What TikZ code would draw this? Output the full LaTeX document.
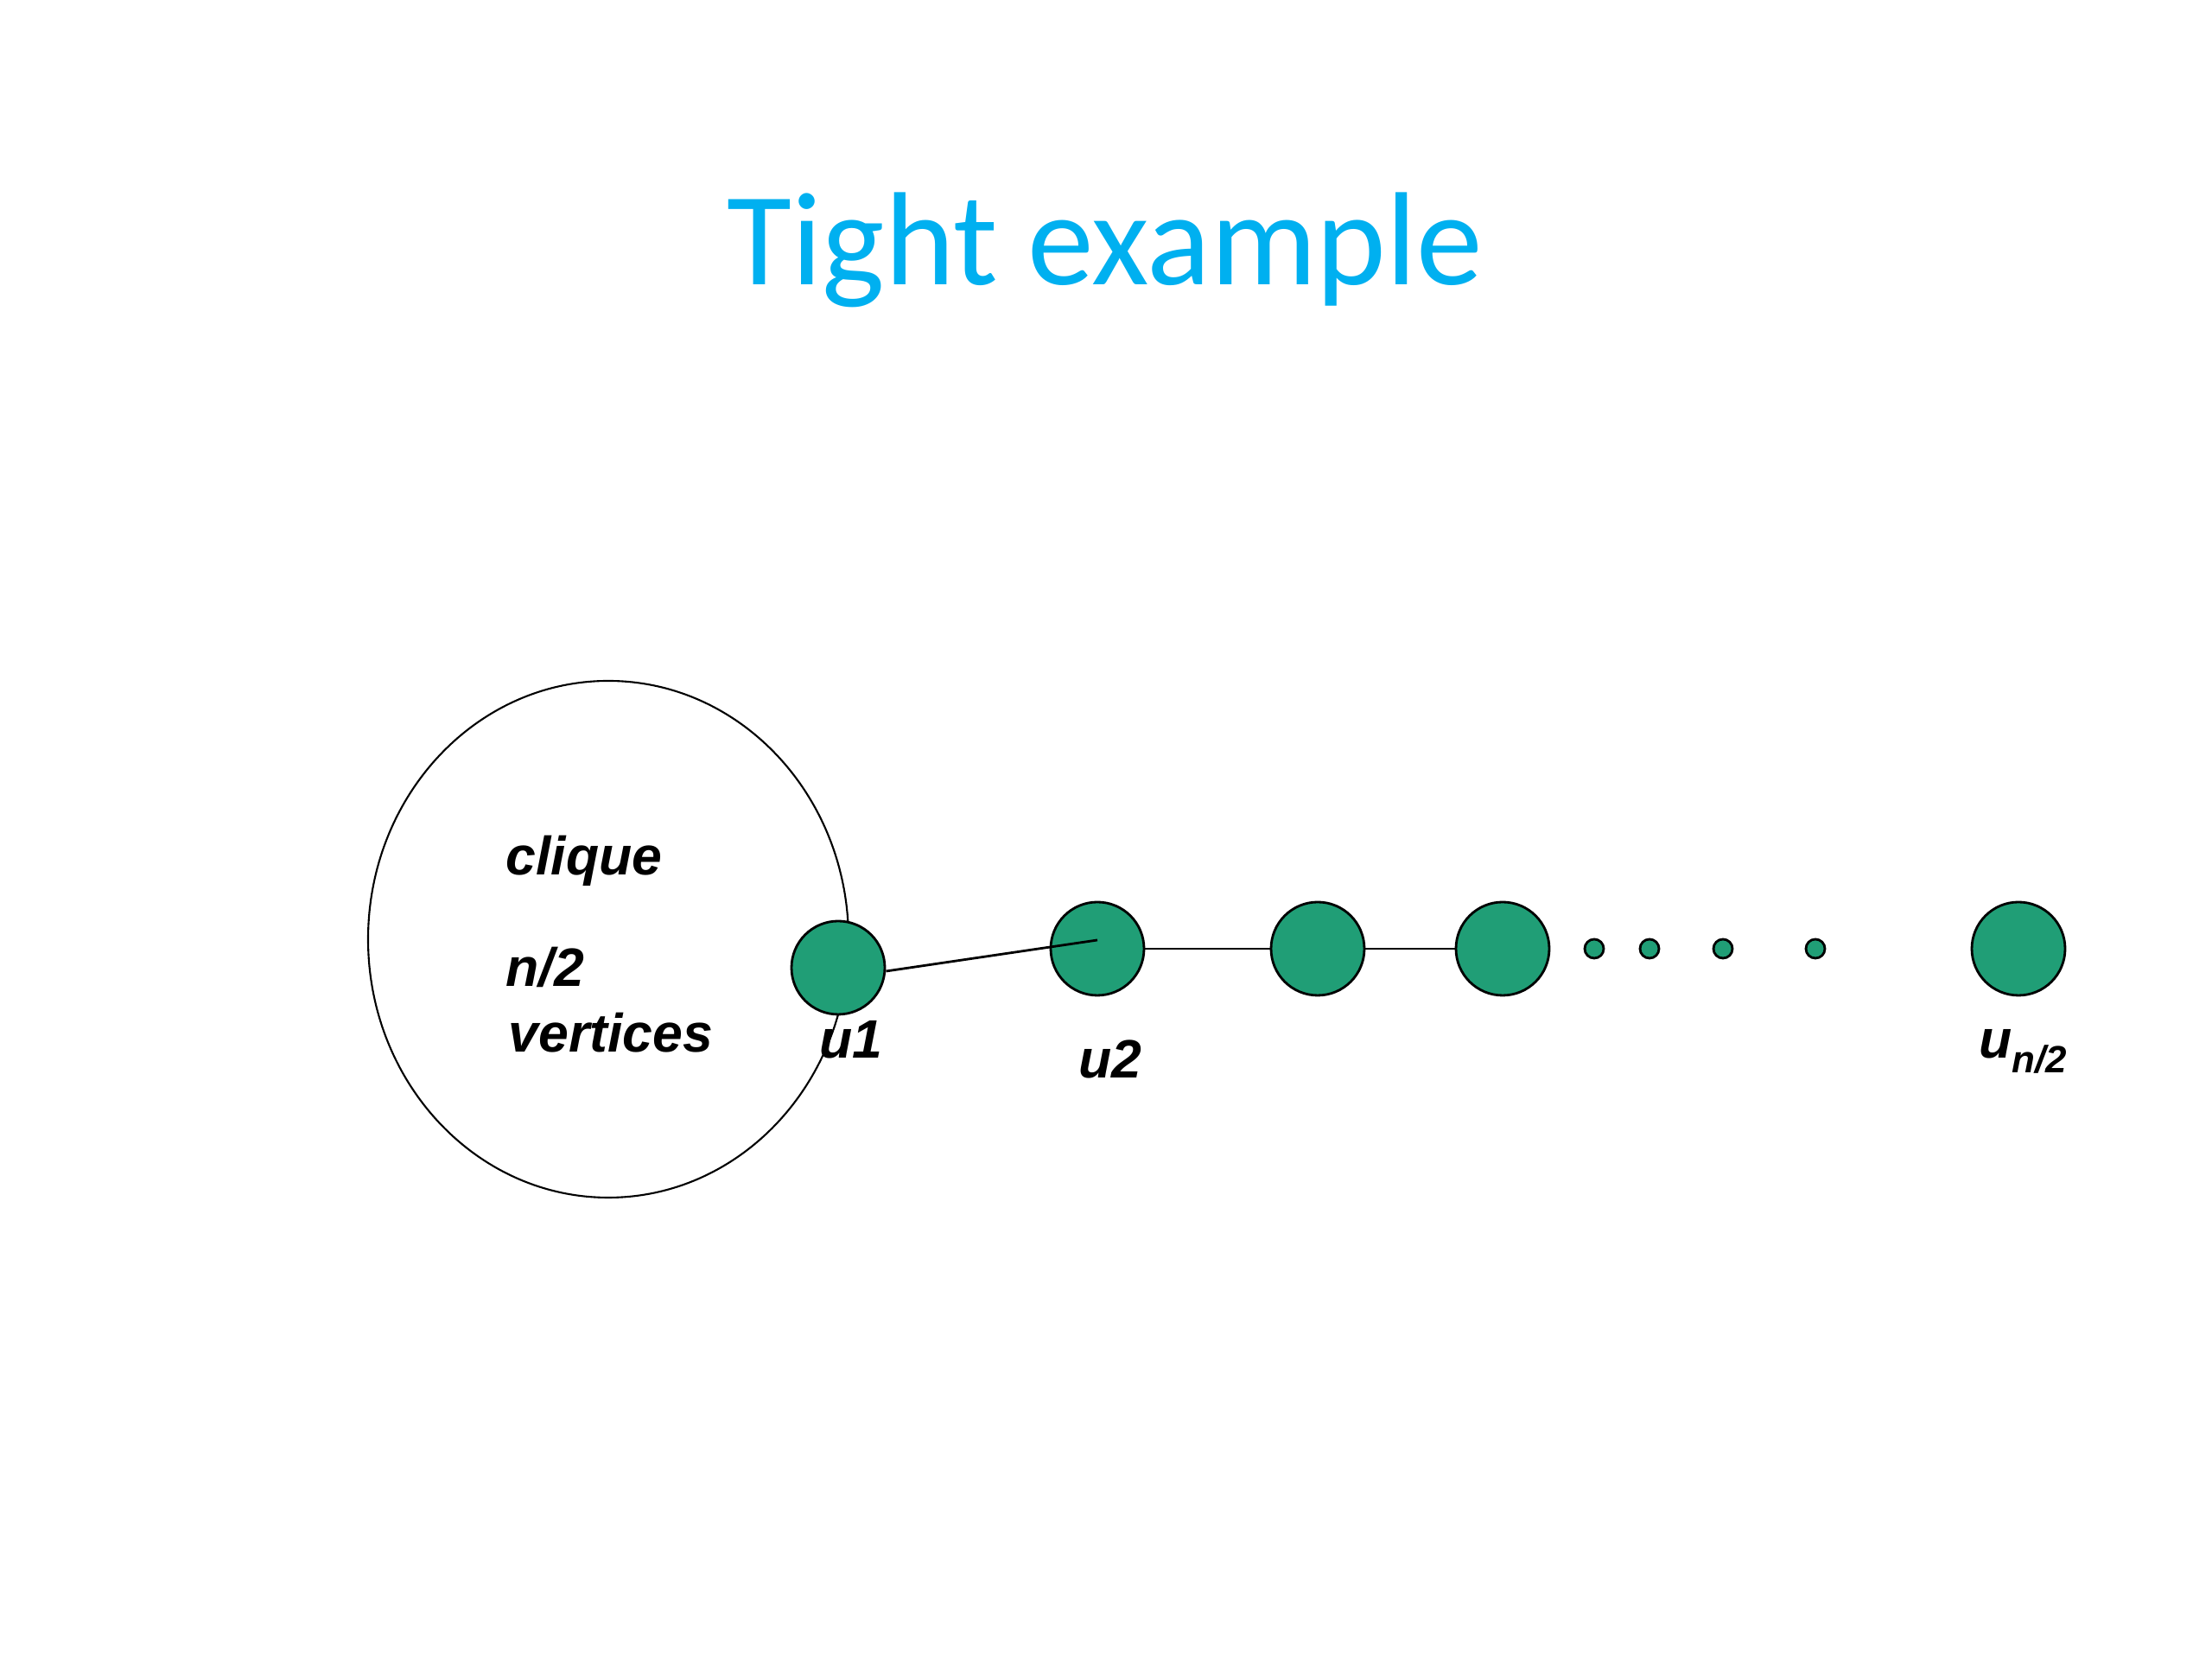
\documentclass[tikz,border=0pt]{standalone}
\usepackage{fontspec}
\usetikzlibrary{shapes.geometric}
\newfontfamily\ttlfont{Carlito}
\newfontfamily\labfont{Liberation Sans}
\definecolor{titlecyan}{RGB}{0,176,240}
\definecolor{vgreen}{RGB}{32,158,118}
\begin{document}
\begin{tikzpicture}[
  vert/.style={circle, draw=black, line width=0.8pt, fill=vgreen, minimum size=1.08cm, inner sep=0pt},
  smalldot/.style={circle, draw=black, line width=0.8pt, fill=vgreen, minimum size=0.22cm, inner sep=0pt},
  edge/.style={draw=black, line width=0.8pt},
  lab/.style={anchor=base west, inner sep=0pt, font=\labfont\bfseries\itshape\fontsize{17.8}{20}\selectfont}
]
\useasboundingbox (0,0) rectangle (25.6,19.2);
\fill[white] (0,0) rectangle (25.6,19.2);
% title
\node[anchor=base, inner sep=0pt, text=titlecyan, font=\ttlfont\fontsize{43.7}{50}\selectfont] (title) at (12.79,15.90) {Tight example};
% clique ellipse
\node[ellipse, draw=black, line width=0.6pt, minimum width=5.56cm, minimum height=5.98cm, inner sep=0pt] (cl) at (7.04,8.33) {};
\node[lab] (tclique) at (5.85,9.07) {clique};
\node[lab] (tn) at (5.85,7.78) {n/2};
\node[lab] (tvert) at (5.88,7.02) {vertices};
% vertices
\node[vert] (u1) at (9.70,8.00) {};
\node[vert] (u2) at (12.70,8.22) {};
\node[vert] (u3) at (15.25,8.22) {};
\node[vert] (u4) at (17.39,8.22) {};
\node[smalldot] (d1) at (18.45,8.22) {};
\node[smalldot] (d2) at (19.09,8.22) {};
\node[smalldot] (d3) at (19.94,8.22) {};
\node[smalldot] (d4) at (21.01,8.22) {};
\node[vert] (un) at (23.36,8.22) {};
% edges
\coordinate (u2in) at (12.70,8.32);
\draw[edge] ([yshift=-0.04cm]u1.east) -- (u2in);
\draw[edge] (u2) -- (u3);
\draw[edge] (u3) -- (u4);
% labels
\node[lab] (lu1) at (9.48,6.95) {u1};
\node[lab] (lu2) at (12.48,6.72) {u2};
\node[lab] (lun) at (22.90,6.95) {u\raisebox{-0.17cm}{\fontsize{12.5}{14}\selectfont n/2}};
\end{tikzpicture}
\end{document}
